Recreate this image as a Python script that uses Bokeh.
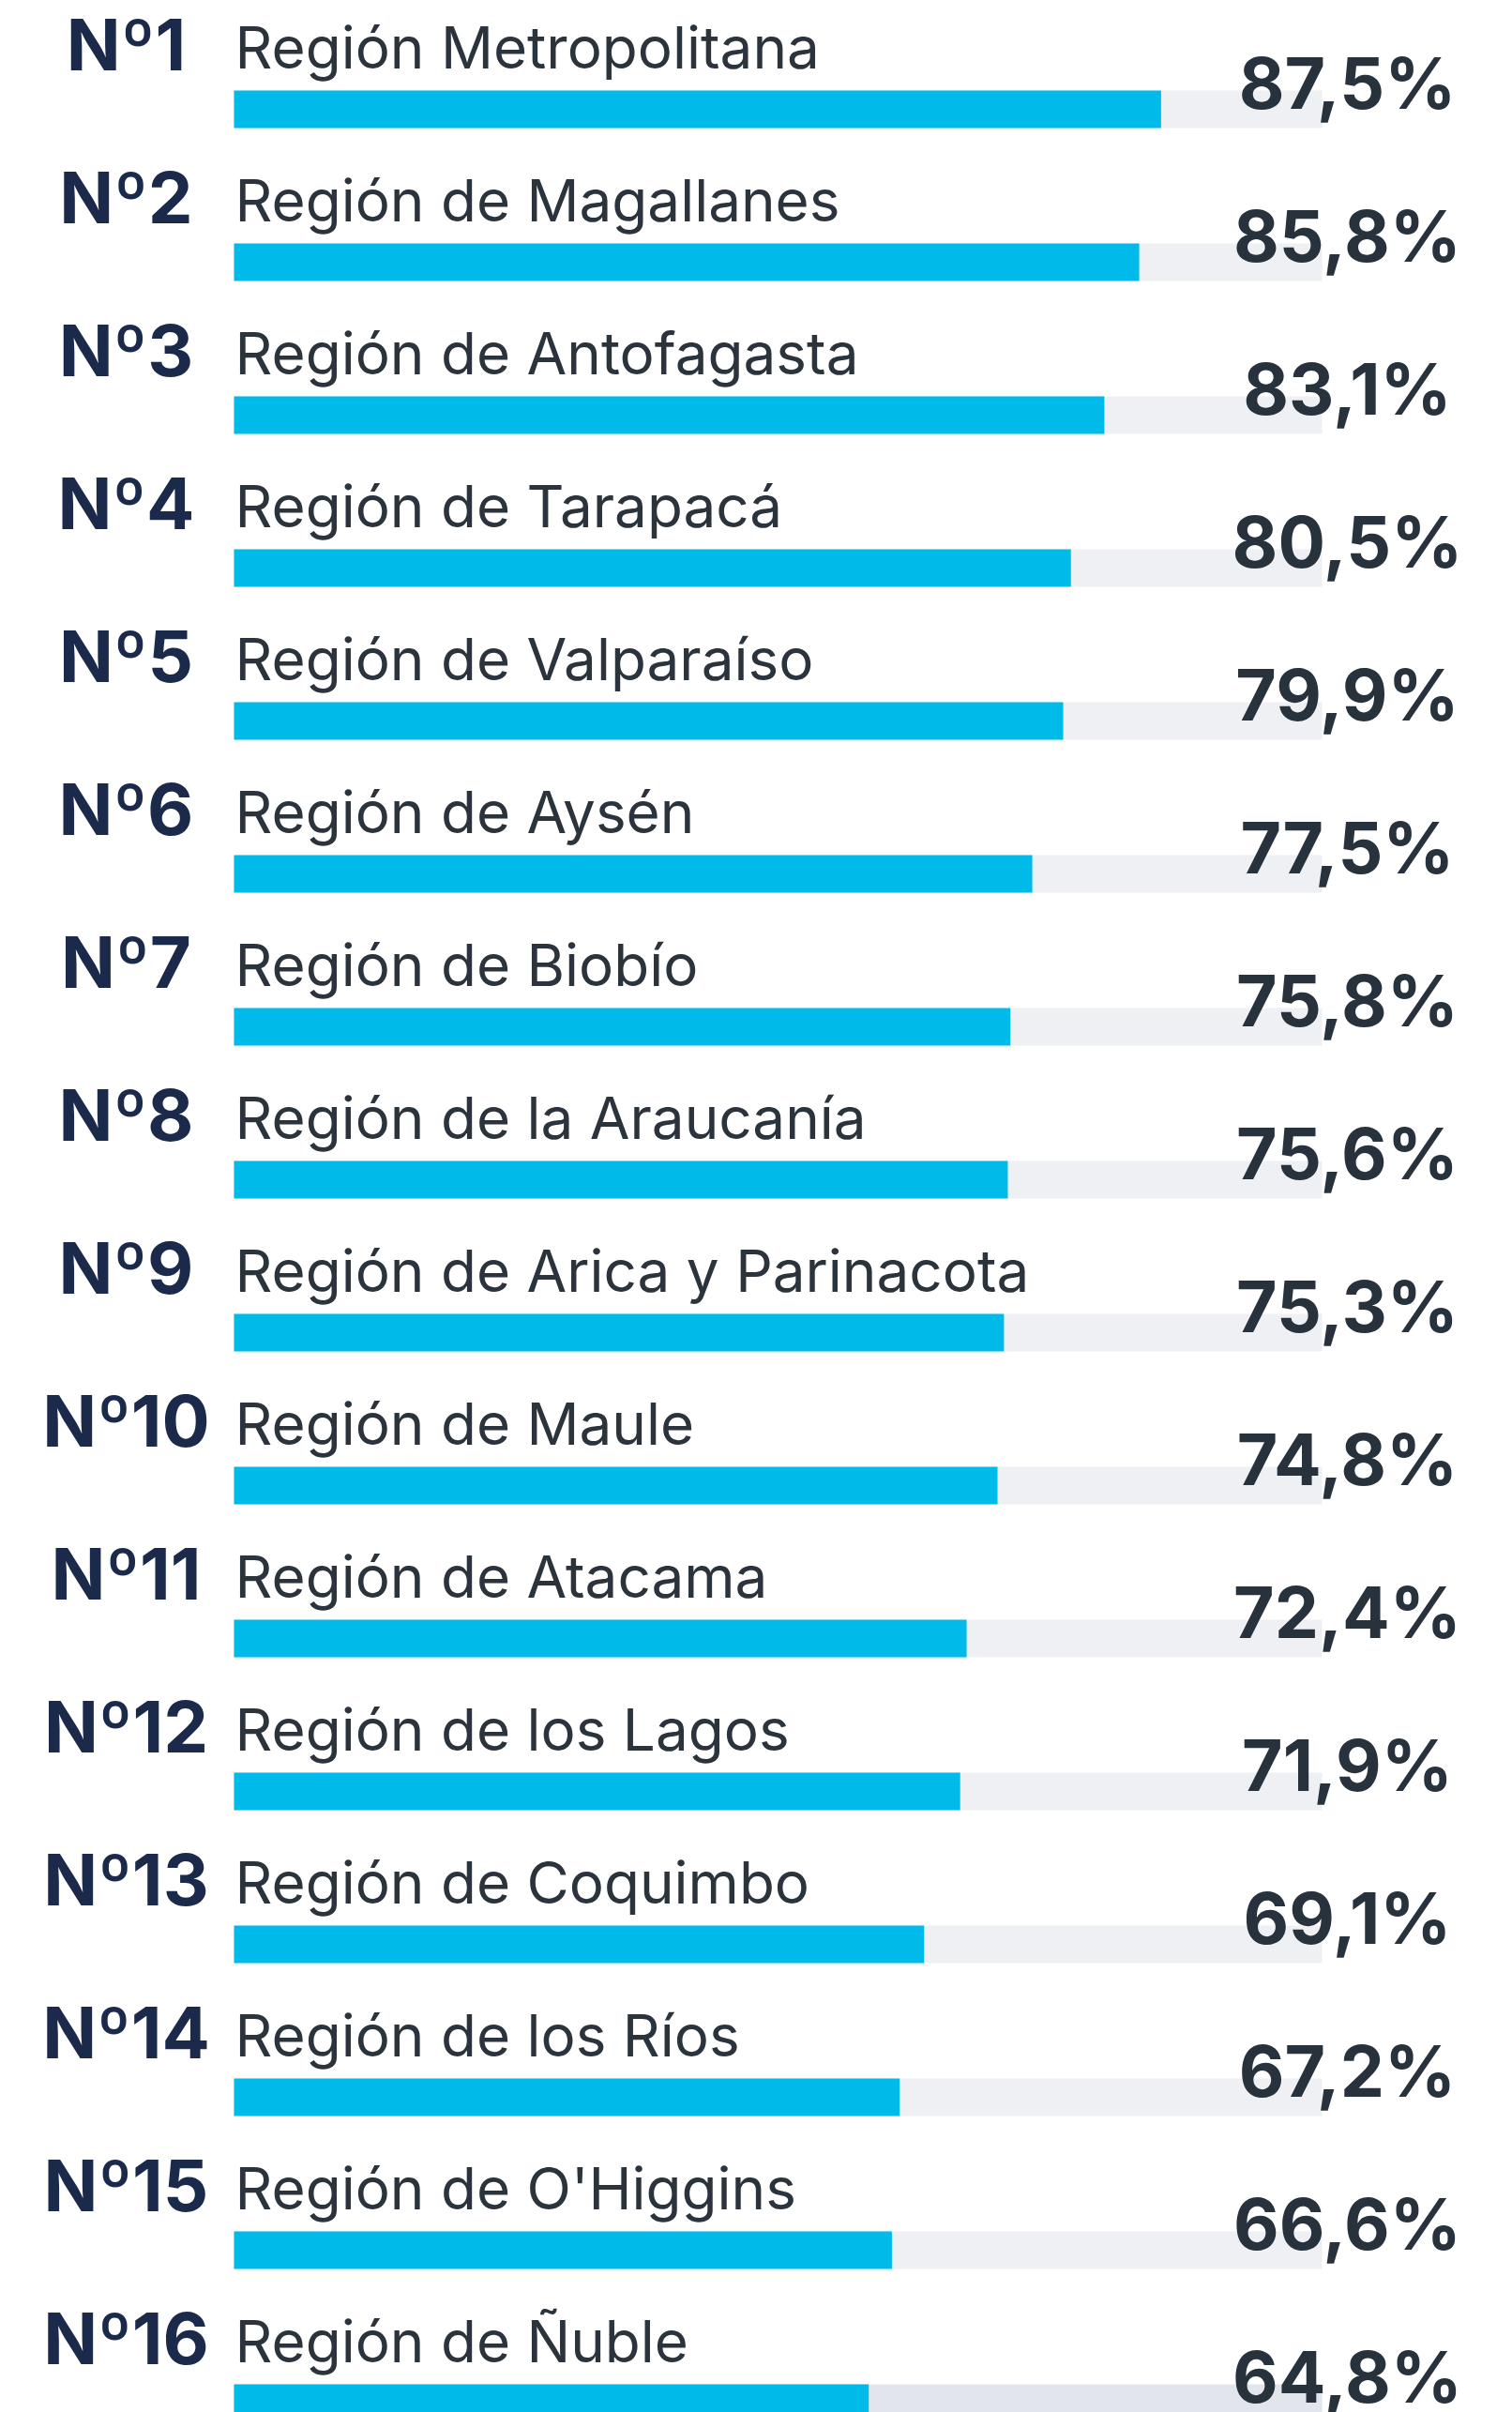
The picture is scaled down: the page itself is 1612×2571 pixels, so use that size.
from bokeh.plotting import figure
from bokeh.models import ColumnDataSource, Range1d
from bokeh.core.properties import value
from bokeh.embed import file_html
from bokeh.resources import INLINE

# ---- data ----
ranks = ["Nº1", "Nº2", "Nº3", "Nº4", "Nº5", "Nº6", "Nº7", "Nº8",
         "Nº9", "Nº10", "Nº11", "Nº12", "Nº13", "Nº14", "Nº15", "Nº16"]
regions = ["Región Metropolitana", "Región de Magallanes", "Región de Antofagasta",
           "Región de Tarapacá", "Región de Valparaíso", "Región de Aysén",
           "Región de Biobío", "Región de la Araucanía", "Región de Arica y Parinacota",
           "Región de Maule", "Región de Atacama", "Región de los Lagos",
           "Región de Coquimbo", "Región de los Ríos", "Región de O'Higgins",
           "Región de Ñuble"]
values = [87.5, 85.8, 83.1, 80.5, 79.9, 77.5, 75.8, 75.6,
          75.3, 74.8, 72.4, 71.9, 69.1, 67.2, 66.6, 64.8]
full_scale = 100.0

# ---- layout (style) ----
W, H = 1612, 2571
PX = 13.73                      # pixels per percentage point
X0 = -36 / PX                   # 0 % sits a little left of bar start
X1 = X0 + W / PX
ROW_PX = 163.0
Y_TOP = -116 / ROW_PX
Y_BOT = (H - 116) / ROW_PX

def xpx(p):            # pixel -> data x
    return X0 + p / PX

def ypx(d):            # pixel offset -> data y offset
    return d / ROW_PX

bar_start = xpx(249)
n = len(values)
idx = list(range(n))

src = ColumnDataSource(dict(
    y=idx,
    val=values,
    full=[full_scale] * n,
    left=[bar_start] * n,
    track=["#eff0f4"] * (n - 1) + ["#e2e5ec"],
    rank=ranks,
    region=regions,
    label=[("%.1f" % v).replace(".", ",") + "%" for v in values],
    rank_y=[i + ypx(-70) for i in idx],
    region_y=[i + ypx(-66) for i in idx],
    val_y=[i + ypx(-28) for i in idx],
    rank_x=[xpx(134)] * n,
    region_x=[xpx(250)] * n,
    val_x=[xpx(1436)] * n,
))

p = figure(width=W, height=H, output_backend="svg", toolbar_location=None,
           x_range=Range1d(X0, X1), y_range=Range1d(Y_BOT, Y_TOP),
           x_axis_type=None, y_axis_type=None, min_border=0,
           outline_line_color=None, background_fill_color="white",
           border_fill_color="white")
p.grid.visible = False

bh = 40 / ROW_PX
p.hbar(y="y", left="left", right="full", height=bh, source=src,
       fill_color="track", line_color=None)
p.hbar(y="y", left="left", right="val", height=bh, source=src,
       fill_color="#00bbea", line_color=None)

p.text(x="rank_x", y="rank_y", text="rank", source=src,
       text_font=value("Inter"), text_font_size="76px", text_font_style="bold",
       text_color="#1b2a4b", text_align="center", text_baseline="middle")
p.text(x="region_x", y="region_y", text="region", source=src,
       text_font=value("Inter"), text_font_size="62px",
       text_color="#2b333c", text_align="left", text_baseline="middle")
p.text(x="val_x", y="val_y", text="label", source=src,
       text_font=value("Inter"), text_font_size="75px", text_font_style="bold",
       text_color="#28323d", text_align="center", text_baseline="middle")

open("out.html", "w").write(file_html(p, INLINE))
